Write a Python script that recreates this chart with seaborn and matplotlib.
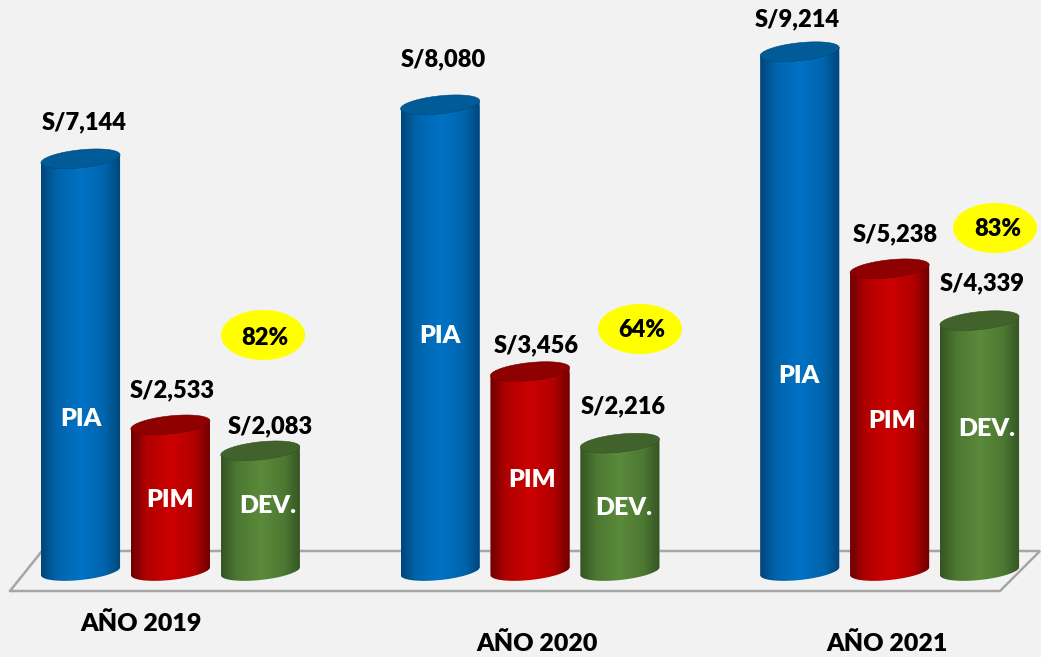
# -*- coding: utf-8 -*-
import numpy as np
import pandas as pd
import seaborn as sns
from matplotlib import pyplot as plt
from matplotlib.colors import LinearSegmentedColormap
from matplotlib.patches import Ellipse, Polygon
from matplotlib.transforms import Affine2D

years = ['AÑO 2019', 'AÑO 2020', 'AÑO 2021']
series = ['PIA', 'PIM', 'DEV.']
pia = [7144, 8080, 9000]
pim = [2533, 3456, 5238]
dev = [2083, 2216, 4339]
pia_labels = ['S/7,144', 'S/8,080', 'S/9,214']
pim_labels = ['S/2,533', 'S/3,456', 'S/5,238']
dev_labels = ['S/2,083', 'S/2,216', 'S/4,339']
percents = ['82%', '64%', '83%']

W, H = 1041, 657
BASE_PX = 571      # pixel row of the value 0
Y_SCALE = 0.0577   # pixels per sol
SLOT_PX = 89.9     # pixels per bar slot
X0_PX = 80.5

BG = '#f2f2f2'
colors = {'PIA': ('#00467a', '#0064ac', '#0072c4', '#005b97'),
          'PIM': ('#6e0000', '#b20000', '#cc0000', '#8f0000'),
          'DEV.': ('#365424', '#4d7832', '#5a8a3a', '#41622a')}

rows = []
for g, year in enumerate(years):
    for i, (name, values) in enumerate(zip(series, [pia, pim, dev])):
        rows.append({'pos': g * 4 + i, 'serie': name, 'value': values[g]})
df = pd.DataFrame(rows)

sns.set_theme(style='white')
plt.rcParams['font.family'] = ['Lato', 'DejaVu Sans']
plt.rcParams['font.weight'] = 'heavy'

fig = plt.figure(figsize=(W / 100, H / 100), dpi=100, facecolor=BG)
ax = fig.add_axes([0, 0, 1, 1])
ax.set_facecolor(BG)

sns.barplot(data=df, x='pos', y='value', hue='serie', hue_order=series, native_scale=True,
            dodge=False, width=0.88, palette={k: v[2] for k, v in colors.items()},
            legend=False, ax=ax, zorder=3, saturation=1)

xlim = (-X0_PX / SLOT_PX, (W - X0_PX) / SLOT_PX)
ylim = ((BASE_PX - H) / Y_SCALE, BASE_PX / Y_SCALE)

# pixel coordinates counted from the top left, like the picture
px = Affine2D().scale(1, -1).translate(0, H)

# floor
floor_x = [10, 42, 1040, 1000, 10]
floor_y = [591, 551, 551, 591, 591]
ax.plot(floor_x, floor_y, color='#a6a6a6', lw=1.8, transform=px, zorder=1, solid_joinstyle='miter')

B = 9 / Y_SCALE
K = 4 / Y_SCALE


def rim(cx, cy, a, t):
    return np.column_stack([cx + a * np.cos(t), cy + B * np.sin(t) + K * np.cos(t)])


bars = sorted(ax.patches, key=lambda b: b.get_x())
for bar, (_, row) in zip(bars, df.iterrows()):
    a = bar.get_width() / 2
    cx = bar.get_x() + a
    top = bar.get_height()
    dark, mid, main, lid = colors[row['serie']]

    t_low = np.linspace(np.pi, 2 * np.pi, 60)
    outline = np.vstack([[cx - a, top - K], rim(cx, 0, a, t_low), [cx + a, top + K]])
    body = Polygon(outline, closed=True, facecolor='none', edgecolor='none', zorder=3)
    ax.add_patch(body)
    bar.set_clip_path(body)

    cmap = LinearSegmentedColormap.from_list('cyl', [(0, dark), (0.2, mid), (0.5, main), (0.8, mid), (1, dark)])
    grad = ax.imshow(np.linspace(0, 1, 120)[None, :], cmap=cmap, aspect='auto',
                     extent=(cx - a, cx + a, -2 * B, top + 2 * K), zorder=3.1)
    grad.set_clip_path(body)

    lid_pts = rim(cx, top, a, np.linspace(0, 2 * np.pi, 120))
    ax.add_patch(Polygon(lid_pts, closed=True, facecolor=lid, edgecolor=dark, lw=0.4, zorder=3.2))

ax.set_xlim(xlim)
ax.set_ylim(ylim)
ax.axis('off')

# value labels, centre pixel of each
labels = pia_labels + pim_labels + dev_labels
label_xy = [(84, 122), (443, 59), (797, 19),
            (172, 390), (536, 345), (895, 234),
            (270, 426), (623, 406), (982, 283)]
for s, (x, y) in zip(labels, label_xy):
    ax.text(x, y, s, transform=px, ha='center', va='center', fontsize=17, color='black', zorder=5)

# names inside the bars
inner = ['PIA'] * 3 + ['PIM'] * 3 + ['DEV.'] * 3
inner_xy = [(81, 419), (440, 336), (799, 376),
            (170, 500), (532, 480), (892, 421),
            (268, 506), (624, 508), (987, 429)]
for s, (x, y) in zip(inner, inner_xy):
    ax.text(x, y, s, transform=px, ha='center', va='center', fontsize=18, color='white', zorder=5)

# yellow percent badges
badge_xy = [(263, 335), (640, 329), (995, 228)]
percent_xy = [(265, 338), (642, 330), (998, 229)]
for s, c, p in zip(percents, badge_xy, percent_xy):
    ax.add_patch(Ellipse(c, 84, 50, facecolor='#ffff00', edgecolor='none', transform=px, zorder=4))
    ax.text(p[0], p[1], s, transform=px, ha='center', va='center', fontsize=17, color='black', zorder=5)

# year labels
year_xy = [(141, 624), (537, 644), (887, 644)]
for s, (x, y) in zip(years, year_xy):
    ax.text(x, y, s, transform=px, ha='center', va='center', fontsize=18, color='black', zorder=5)

fig.savefig('out.png', dpi=100, facecolor=BG)
